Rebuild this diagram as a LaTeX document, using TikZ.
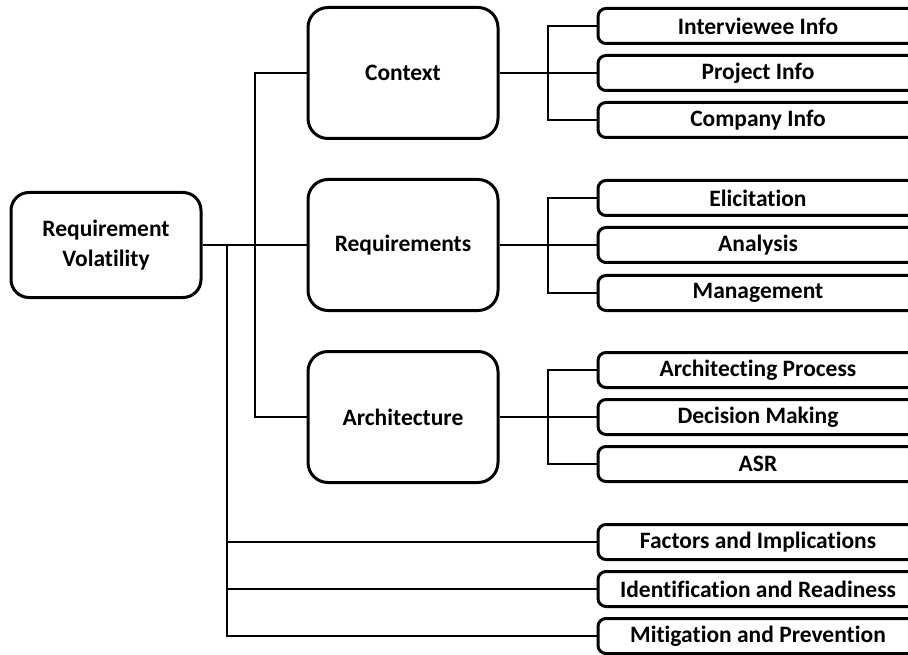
\documentclass[tikz,border=0pt]{standalone}
\usepackage{fontspec}
\setmainfont{Carlito}[Ligatures=NoCommon]
\begin{document}
\begin{tikzpicture}[x=1pt,y=-1pt,line width=2pt,draw=black!100]
	\def \midx{403}
	\def \leafx{758}
	\def \busone{255}
	\def \bustwo{227}
	\def \forkx{548}
	\tikzstyle{root-node}=[rectangle,rounded corners=18pt,draw=black!100,line width=3pt,minimum width=190pt,minimum height=105pt,inner sep=0pt,align=center]
	\tikzstyle{mid-node}=[rectangle,rounded corners=20pt,draw=black!100,line width=3pt,minimum width=190pt,minimum height=131pt,inner sep=0pt]
	\tikzstyle{leaf-node}=[rectangle,rounded corners=8pt,draw=black!100,line width=3pt,minimum width=320pt,minimum height=35pt,inner sep=0pt]
	\useasboundingbox (0,0) rectangle (908,655);
	\clip (0,0) rectangle (908,655);

	\fontsize{23.5}{30}\selectfont\bfseries
	% root
	\node[root-node] 	(root)	at (106,245)		{Requirement\\Volatility};

	% middle layer
	\node[mid-node] 	(m0)	at (\midx,73)		{Context};
	\node[mid-node] 	(m1)	at (\midx,245)		{Requirements};
	\node[mid-node] 	(m2)	at (\midx,417)		{Architecture};

	% leaves
	\node[leaf-node] 	(s0)	at (\leafx,26)		{Interviewee Info};
	\node[leaf-node] 	(s1)	at (\leafx,73)		{Project Info};
	\node[leaf-node] 	(s2)	at (\leafx,120)		{Company Info};
	\node[leaf-node] 	(s3)	at (\leafx,198)		{Elicitation};
	\node[leaf-node] 	(s4)	at (\leafx,245)		{Analysis};
	\node[leaf-node] 	(s5)	at (\leafx,293)		{Management};
	\node[leaf-node] 	(s6)	at (\leafx,370)		{Architecting Process};
	\node[leaf-node] 	(s7)	at (\leafx,417)		{Decision Making};
	\node[leaf-node] 	(s8)	at (\leafx,464)		{ASR};
	\node[leaf-node] 	(f0)	at (\leafx,542)		{Factors and Implications};
	\node[leaf-node] 	(f1)	at (\leafx,589)		{Identification and Readiness};
	\node[leaf-node] 	(f2)	at (\leafx,636)		{Mitigation and Prevention};

	\coordinate (bus)	at (\busone,245);
	\coordinate (bus2)	at (\bustwo,245);
	\coordinate (k0)	at (\forkx,73);
	\coordinate (k1)	at (\forkx,245);
	\coordinate (k2)	at (\forkx,417);

	% root to middle layer
	\draw (root.east) -- (m1.west);
	\draw (m0.west) -| (bus) |- (m2.west);
	%
	\draw (bus2) |- (f0.west);
	\draw (bus2) |- (f1.west);
	\draw (bus2) |- (f2.west);

	% middle layer to leaves
	\draw (m0.east) -- (s1.west);
	\draw (s0.west) -| (k0) |- (s2.west);
	%
	\draw (m1.east) -- (s4.west);
	\draw (s3.west) -| (k1) |- (s5.west);
	%
	\draw (m2.east) -- (s7.west);
	\draw (s6.west) -| (k2) |- (s8.west);
\end{tikzpicture}
\end{document}
